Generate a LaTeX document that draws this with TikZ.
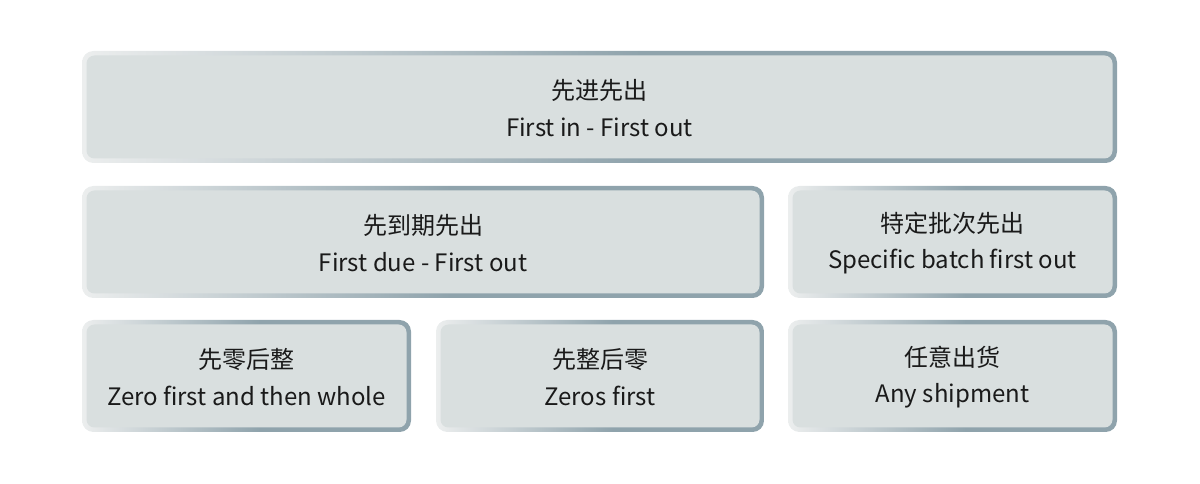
\documentclass[tikz,border=0pt]{standalone}
\usepackage{fontspec}
\setmainfont{Noto Sans CJK SC}
\definecolor{bl}{HTML}{ECEEEE}
\definecolor{bd}{HTML}{8FA3AC}
\definecolor{bfill}{HTML}{D9DFDF}
\definecolor{txt}{HTML}{1A1A1A}
\pgfdeclarehorizontalshading{bord}{100bp}{color(0bp)=(bl); color(25bp)=(bl); color(52bp)=(bd); color(75bp)=(bd); color(100bp)=(bd)}
\tikzset{
  boxtext/.style={align=center, text=txt, font=\fontsize{18}{27.5}\selectfont, inner sep=0pt},
}
\newcommand{\bx}[7]{%
  \path[shading=bord, rounded corners=8.5pt] (#2,#3) rectangle (#4,#5);
  \fill[bfill, rounded corners=6pt] ($(#2,#3)+(4.5,4.5)$) rectangle ($(#4,#5)+(-4.5,-4.5)$);
  \node[boxtext] (#1) at ($(#2,#3)!0.5!(#4,#5)+(0,1)$) {#6\\#7};
}
\usetikzlibrary{calc}
\begin{document}
\begin{tikzpicture}[x=0.75pt,y=-0.75pt]
\useasboundingbox (0,0) rectangle (1200,484);
\bx{fifo}{82}{51}{1117}{163}{先进先出}{First in - First out}
\bx{fefo}{82}{186}{764}{298}{先到期先出}{First due - First out}
\bx{spec}{788}{186}{1117}{298}{特定批次先出}{Specific batch first out}
\bx{zfw}{82}{320}{411}{432}{先零后整}{Zero first and then whole}
\bx{zf}{436}{320}{764}{432}{先整后零}{Zeros first}
\bx{any}{788}{320}{1117}{432}{任意出货}{Any shipment}
\end{tikzpicture}
\end{document}
